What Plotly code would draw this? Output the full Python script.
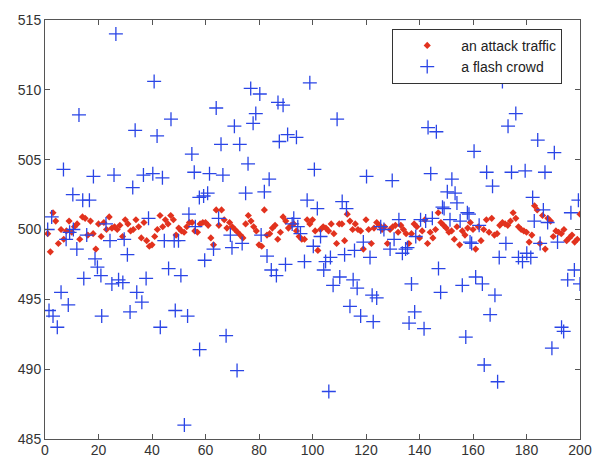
import plotly.graph_objects as go

# Red series: one value per index 1..200
attack_x = list(range(1, 201))
attack_y = [
    499.7, 498.4, 501.2, 500.6, 499.0, 500.0, 499.3, 499.9, 500.6, 499.8,
    500.2, 500.4, 499.3, 500.9, 500.8, 499.6, 500.6, 499.7, 498.6, 500.4,
    499.5, 500.5, 500.0, 500.9, 500.1, 500.2, 500.0, 500.3, 499.5, 500.7,
    500.4, 499.9, 500.0, 500.7, 500.2, 499.4, 500.5, 499.2, 498.8, 498.9,
    499.5, 500.0, 501.0, 500.2, 500.7, 500.4, 501.0, 500.7, 499.6, 500.1,
    499.9, 499.8, 500.2, 500.5, 500.5, 499.9, 499.8, 500.4, 500.5, 500.5,
    500.3, 499.4, 498.9, 501.4, 500.3, 501.4, 500.7, 500.1, 500.5, 500.2,
    500.0, 499.8, 499.6, 499.4, 500.4, 501.0, 500.6, 500.2, 499.9, 498.9,
    498.8, 501.4, 499.6, 499.7, 500.1, 500.3, 499.3, 499.8, 500.9, 500.6,
    500.1, 500.3, 500.4, 499.9, 499.5, 499.3, 499.3, 500.7, 500.4, 500.7,
    499.9, 498.5, 500.0, 500.2, 500.1, 499.9, 500.4, 499.7, 499.0, 500.4,
    500.4, 499.2, 501.1, 500.6, 500.0, 500.4, 500.0, 499.9, 498.6, 500.7,
    500.0, 499.0, 500.1, 500.5, 500.3, 500.0, 500.2, 499.0, 500.0, 500.2,
    500.3, 499.8, 500.3, 500.0, 499.7, 499.0, 499.7, 500.4, 500.2, 499.4,
    499.9, 500.7, 499.0, 499.8, 499.4, 500.0, 501.2, 500.5, 500.3, 500.1,
    499.8, 499.9, 499.3, 500.2, 498.9, 499.9, 499.6, 500.1, 500.5, 500.0,
    498.6, 500.2, 499.2, 500.0, 500.7, 499.8, 500.8, 499.6, 499.7, 500.3,
    500.5, 500.4, 500.3, 500.6, 501.2, 500.8, 500.2, 500.0, 499.9, 499.8,
    499.1, 499.6, 501.7, 501.4, 499.0, 501.0, 498.6, 500.8, 500.6, 499.5,
    499.9, 499.8, 499.7, 500.0, 499.2, 499.4, 499.6, 499.1, 499.3, 501.1,
]

# Blue series
crowd_x = [
    1, 1.5, 2.5, 3, 4.6, 6, 6.9, 7.9, 8.7, 9.2,
    10.4, 10.6, 11.9, 12.7, 14.1, 14.5, 15.6, 16.6, 18.1, 18.7,
    19.6, 20.9, 21.2, 22.8, 24.3, 25, 25.8, 26.5, 27.5, 29.1,
    29.6, 30.8, 31.8, 32.8, 33.7, 34.3, 36.2, 36.8, 37.8, 38.7,
    40.3, 40.8, 41.9, 43.1, 43.9, 44.6, 46.2, 47.1, 48.3, 48.7,
    49.9, 50.8, 52.1, 53.3, 53.8, 54.9, 55.8, 56.2, 57.7, 57.8,
    59.3, 59.7, 60.8, 61.5, 63, 64, 64.9, 65.8, 66.5, 67.7,
    69.3, 69.9, 70.8, 71.8, 72.8, 73.7, 75, 75.9, 76.9, 77.8,
    78.8, 80.3, 80.8, 82, 83, 83.8, 84.6, 86.5, 87.1, 87.6,
    89, 89.9, 90.7, 92.4, 93, 94, 94.5, 95.5, 97, 98,
    99, 100.3, 100.7, 101.8, 103, 104.2, 104.9, 106.1, 106.7, 107.7,
    109.2, 110.2, 111.1, 112, 112.7, 114, 115.2, 115.7, 116.7, 118,
    119, 120.2, 121.5, 122.3, 122.7, 124, 125.5, 126.7, 129, 129.8,
    130.5, 132.3, 133.6, 134.8, 135.5, 136.1, 137, 138.2, 138.6, 140.4,
    141.7, 142.3, 143.2, 144.2, 144.8, 146.3, 147.1, 147.9, 148.6, 149.2,
    150.4, 151.4, 152.1, 153.3, 154, 155.2, 156, 157.3, 157.9, 158.5,
    158.9, 159.5, 160.4, 161, 162.3, 163.5, 164.2, 165.1, 166.4, 167.3,
    168.2, 169.2, 169.8, 171, 172.3, 173.1, 174.4, 176, 177, 178.5,
    179.5, 180.1, 181.6, 182.3, 182.9, 184.2, 185.1, 186.3, 186.9, 187.9,
    189.5, 190.4, 191.6, 193.1, 193.9, 195.4, 196.6, 197.9, 199.4, 200,
]
crowd_y = [
    500.0, 494.2, 500.9, 493.8, 493.0, 495.5, 504.3, 499.3, 494.6, 499.8,
    502.5, 500.0, 498.6, 508.2, 502.1, 496.5, 499.6, 502.1, 503.8, 497.9,
    497.3, 496.7, 493.8, 500.4, 499.2, 496.1, 503.9, 514.0, 496.4, 496.2,
    499.3, 498.2, 494.1, 503.0, 507.1, 495.5, 494.8, 503.9, 496.5, 500.8,
    504.0, 510.6, 506.7, 493.0, 503.7, 499.2, 497.2, 507.9, 499.2, 494.2,
    499.2, 496.7, 486.0, 493.8, 501.1, 505.4, 504.1, 500.2, 502.3, 491.4,
    502.4, 497.8, 502.6, 504.0, 498.6, 508.7, 500.8, 506.1, 503.9, 492.4,
    499.6, 498.7, 507.4, 489.9, 506.1, 499.0, 502.6, 504.7, 510.1, 507.6,
    508.3, 509.7, 499.6, 502.7, 498.1, 503.6, 497.1, 496.7, 509.1, 506.3,
    508.9, 497.5, 506.8, 500.4, 500.8, 506.6, 500.2, 499.7, 497.7, 502.1,
    510.5, 498.8, 504.3, 501.5, 499.5, 497.1, 497.7, 488.4, 498.0, 496.0,
    507.9, 496.6, 502.0, 498.2, 501.5, 494.5, 496.4, 498.5, 495.8, 493.8,
    499.1, 503.8, 498.0, 495.3, 493.4, 495.1, 500.2, 500.0, 498.6, 503.5,
    499.3, 500.7, 498.3, 498.6, 498.7, 493.3, 496.1, 494.1, 499.5, 500.7,
    492.9, 500.6, 507.3, 504.0, 500.8, 507.0, 497.2, 495.5, 501.6, 501.5,
    502.7, 500.7, 503.6, 502.6, 501.9, 500.6, 496.0, 492.3, 501.2, 501.1,
    499.1, 499.0, 505.6, 496.6, 500.3, 496.1, 490.3, 504.1, 493.9, 503.1,
    495.3, 489.1, 498.0, 510.6, 499.0, 507.4, 504.1, 508.3, 498.0, 497.7,
    504.2, 498.3, 498.0, 502.3, 500.6, 506.4, 499.0, 501.4, 504.1, 500.5,
    491.5, 505.5, 499.1, 493.0, 492.7, 496.4, 501.2, 497.1, 502.1, 496.1,
]

RED = "#e2321e"
BLUE = "#2a45e6"

fig = go.Figure()
fig.add_trace(go.Scatter(
    x=attack_x, y=attack_y, mode="markers", name="an attack traffic",
    marker=dict(symbol="diamond", size=5.5, color=RED, line=dict(width=0)),
))
fig.add_trace(go.Scatter(
    x=crowd_x, y=crowd_y, mode="markers", name="a flash crowd",
    marker=dict(symbol="cross-thin", size=10, color=BLUE,
                line=dict(width=1.3, color=BLUE)),
))

axis_common = dict(
    showgrid=False, zeroline=False, showline=True, linecolor="#555",
    linewidth=1, mirror="ticks", ticks="inside", ticklen=5, tickcolor="#555",
    automargin=False,
    tickfont=dict(family="Liberation Sans, Arial, sans-serif", size=14, color="#333"),
)

fig.update_layout(
    width=592, height=460,
    margin=dict(l=45, r=12, t=20, b=21),
    paper_bgcolor="white", plot_bgcolor="white",
    showlegend=True,
    legend=dict(
        x=0.649, y=0.979, xanchor="left", yanchor="top",
        bgcolor="white", bordercolor="#333", borderwidth=1,
        font=dict(family="Liberation Sans, Arial, sans-serif", size=14, color="#222"),
        itemwidth=58, tracegroupgap=0,
    ),
    xaxis=dict(range=[0, 200], dtick=20, tick0=0, ticklabelstandoff=-2, **axis_common),
    yaxis=dict(range=[485, 515], dtick=5, tick0=485, **axis_common),
)

fig.write_html("out.html")
